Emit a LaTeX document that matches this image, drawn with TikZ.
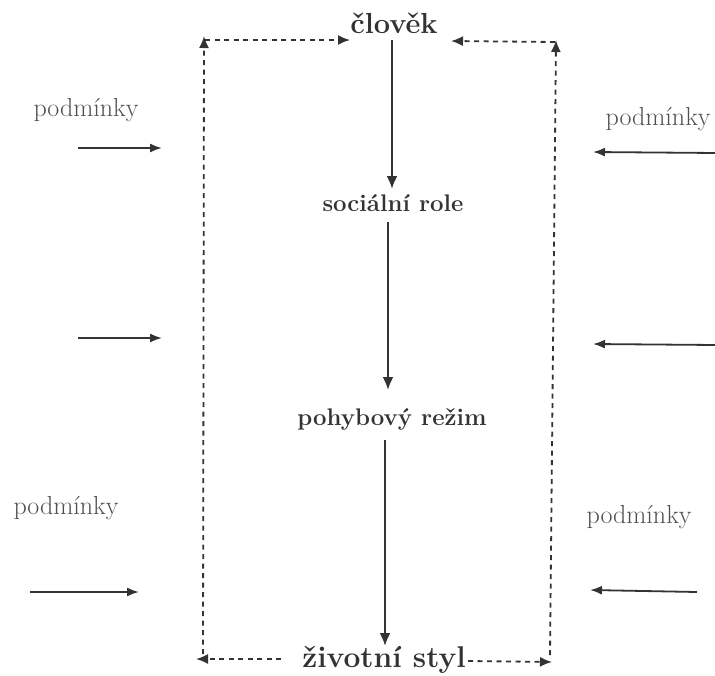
\documentclass[tikz,border=0pt]{standalone}
\usetikzlibrary{arrows.meta}
\definecolor{ink}{HTML}{333333}
\definecolor{softink}{HTML}{505050}
\begin{document}
\begin{tikzpicture}[x=1pt,y=-1pt,
  stage/.style={font=\bfseries, text=ink, inner sep=0pt, anchor=base},
  cond/.style={font=\fontsize{26}{28}\selectfont, text=softink, inner sep=0pt, anchor=base},
  flow/.style={draw=ink, line width=2.2pt, -{Latex[length=13pt,width=11pt]}},
  loop/.style={draw=ink, line width=1.8pt, dash pattern=on 5pt off 4.5pt, -{Latex[length=12pt,width=10pt]}},
  push/.style={draw=ink, line width=1.8pt, -{Latex[length=12pt,width=9pt]}}]
\useasboundingbox (0,0) rectangle (715,675);
\fill[white] (0,0) rectangle (715,675);

% main chain
\node[stage, font=\bfseries\fontsize{29}{31}\selectfont] (clovek) at (394,33) {člověk};
\node[stage, font=\bfseries\fontsize{24}{26}\selectfont] (role) at (393,211) {sociální role};
\node[stage, font=\bfseries\fontsize{24}{26}\selectfont] (rezim) at (392,425) {pohybový režim};
\node[stage, font=\bfseries\fontsize{30}{32}\selectfont] (styl) at (384,667) {životní styl};

\coordinate (c1) at (392,40);  \coordinate (r1) at (392,189);
\coordinate (r2) at (388,222); \coordinate (z1) at (388,390);
\coordinate (z2) at (385,440); \coordinate (s1) at (385,646);
\draw[flow] (c1) -- (r1);
\draw[flow] (r2) -- (z1);
\draw[flow] (z2) -- (s1);

% dashed feedback frame
\coordinate (bl) at (196,659);
\coordinate (blv) at (203,654);
\coordinate (tl) at (204,36);
\coordinate (tlh) at (205,40);
\coordinate (ctl) at (350,40);
\coordinate (sl) at (281,659);
\coordinate (sr) at (468,661);
\coordinate (br) at (552,662);
\coordinate (brv) at (550,655);
\coordinate (tr) at (556,40);
\coordinate (trh) at (555,42);
\coordinate (ctr) at (451,41);
\draw[loop] (sl) -- (bl);
\draw[loop] (blv) -- (tl);
\draw[loop] (tlh) -- (ctl);
\draw[loop] (sr) -- (br);
\draw[loop] (brv) -- (tr);
\draw[loop] (trh) -- (ctr);

% outer conditions, left
\node[cond] (pl1) at (86,116) {podmínky};
\node[cond] (pl2) at (66,514) {podmínky};
\coordinate (la1) at (78,148);  \coordinate (lb1) at (162,148);
\coordinate (la2) at (78,338);  \coordinate (lb2) at (162,338);
\coordinate (la3) at (30,592);  \coordinate (lb3) at (139,592);
\draw[push] (la1) -- (lb1);
\draw[push] (la2) -- (lb2);
\draw[push] (la3) -- (lb3);

% outer conditions, right
\node[cond] (pr1) at (658,125) {podmínky};
\node[cond] (pr2) at (639,523) {podmínky};
\coordinate (ra1) at (716,153); \coordinate (rb1) at (593,152);
\coordinate (ra2) at (716,345); \coordinate (rb2) at (593,344);
\coordinate (ra3) at (697,592); \coordinate (rb3) at (590,590);
\draw[push] (ra1) -- (rb1);
\draw[push] (ra2) -- (rb2);
\draw[push] (ra3) -- (rb3);
\end{tikzpicture}
\end{document}
